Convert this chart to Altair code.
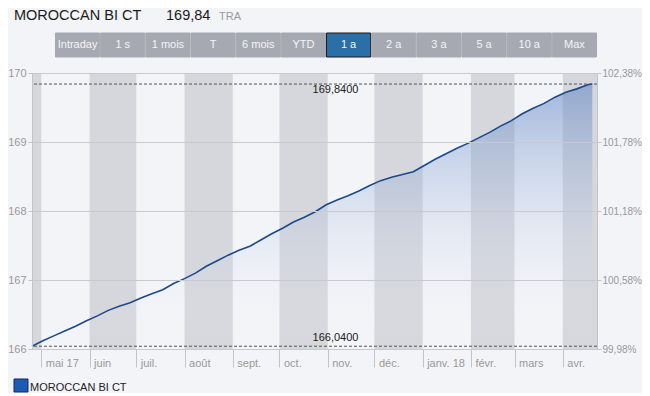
import altair as alt
import pandas as pd

# ---------------- data ----------------
title_text = "MOROCCAN BI CT"
last_value_text = "169,84"
unit_text = "TRA"
legend_text = "MOROCCAN BI CT"
buttons = ["Intraday", "1 s", "1 mois", "T", "6 mois", "YTD", "1 a", "2 a", "3 a", "5 a", "10 a", "Max"]
selected_button = "1 a"

dates = pd.date_range("2017-04-25", periods=52, freq="7D").strftime("%Y-%m-%dT00:00:00").tolist() + ["2018-04-20T00:00:00"]
values = [166.04, 166.12, 166.19, 166.26, 166.33, 166.41, 166.48, 166.56, 166.62, 166.67,
          166.74, 166.80, 166.86, 166.95, 167.02, 167.10, 167.20, 167.28, 167.36, 167.43,
          167.49, 167.58, 167.67, 167.75, 167.84, 167.91, 167.99, 168.09, 168.16, 168.22,
          168.29, 168.37, 168.44, 168.49, 168.53, 168.57, 168.66, 168.75, 168.83, 168.91,
          168.98, 169.06, 169.14, 169.23, 169.31, 169.41, 169.49, 169.56, 169.65, 169.72,
          169.77, 169.83, 169.84]

max_value = 169.84
min_value = 166.04
base_value = 166.04
y_ticks = [166, 167, 168, 169, 170]

band_starts = ["2017-04-25", "2017-06-01", "2017-08-01", "2017-10-01", "2017-12-01", "2018-02-01", "2018-04-01"]
band_ends = ["2017-05-01", "2017-07-01", "2017-09-01", "2017-11-01", "2018-01-01", "2018-03-01", "2018-04-23"]

month_names = ["janv.", "févr.", "mars", "avr.", "mai", "juin", "juil.", "août", "sept.", "oct.", "nov.", "déc."]
tick_months = [(2017, m) for m in range(5, 13)] + [(2018, m) for m in range(1, 5)]

# ---------------- frames ----------------
W, H = 565, 276
FONT = "Liberation Sans"

series = pd.DataFrame({"date": dates, "value": values})
bands = pd.DataFrame({"start": [s + "T00:00:00" for s in band_starts],
                      "end": [e + "T00:00:00" for e in band_ends]})
refs_top = pd.DataFrame({"date": ["2017-11-06T00:00:00"], "v": [max_value],
                         "label": [f"{max_value:.4f}".replace(".", ",")]})
refs_bot = pd.DataFrame({"date": ["2017-11-06T00:00:00"], "v": [min_value],
                         "label": [f"{min_value:.4f}".replace(".", ",")]})
one = pd.DataFrame({"k": [0]})

x_domain = [alt.DateTime(year=2017, month=4, date=25), alt.DateTime(year=2018, month=4, date=23)]
x_scale = alt.Scale(domain=x_domain)
y_scale = alt.Scale(domain=[166, 170], nice=False, zero=False)

names_js = "[" + ",".join(f"'{n}'" for n in month_names) + "]"
x_label_expr = ("month(datum.value)==4 ? 'mai 17' : month(datum.value)==0 ? 'janv. 18' : "
                + names_js + "[month(datum.value)]")

x_axis = alt.Axis(values=[alt.DateTime(year=y, month=m, date=1) for y, m in tick_months],
                  labelExpr=x_label_expr, tickSize=18, labelAlign="left", labelOffset=4,
                  labelPadding=-10, grid=False, labelColor="#999999", labelFontSize=11,
                  tickColor="#c4c4c8", domainColor="#c4c4c8", labelOverlap=False,
                  labelBound=False, labelFlush=False, title=None, labelFont=FONT)

y_left = alt.Axis(values=y_ticks, orient="left", grid=True, gridColor="#c8c9ce", tickSize=4,
                  tickColor="#c4c4c8", domainColor="#c4c4c8", labelColor="#999999",
                  labelFontSize=11, labelPadding=2, title=None, zindex=1, labelFont=FONT)
y_right = alt.Axis(values=y_ticks, orient="right", grid=False, tickSize=4,
                   tickColor="#c4c4c8", domainColor="#c4c4c8", labelColor="#999999",
                   labelFontSize=10, labelPadding=1, title=None, labelFont=FONT,
                   labelExpr=f"replace(format(datum.value/{base_value}*100,'.2f'),'.',',')+'%'")

# ---------------- layers ----------------
band_layer = alt.Chart(bands).mark_rect(color="#d6d7dc").encode(
    x=alt.X("start:T", scale=x_scale, axis=x_axis),
    x2="end:T",
    y=alt.value(0), y2=alt.value(H),
)

gradient = alt.Gradient(
    gradient="linear",
    stops=[alt.GradientStop(color="rgba(90,130,195,0.55)", offset=0),
           alt.GradientStop(color="rgba(255,255,255,0)", offset=1)],
    x1=1, x2=1, y1=0, y2=1,
)
area_layer = alt.Chart(series).mark_area(color=gradient).encode(
    x=alt.X("date:T", scale=x_scale),
    y=alt.Y("value:Q", scale=y_scale, axis=y_left),
    y2=alt.datum(166),
)
line_layer = alt.Chart(series).mark_line(color="#1b4a8a", strokeWidth=1.6).encode(
    x=alt.X("date:T", scale=x_scale),
    y=alt.Y("value:Q", scale=y_scale, axis=None),
)

rule_data = pd.concat([refs_top, refs_bot])
rule_layer = alt.Chart(rule_data).mark_rule(color="#555555", strokeDash=[3, 2], strokeWidth=1).encode(
    y=alt.Y("v:Q", scale=y_scale, axis=y_right),
)
top_label = alt.Chart(refs_top).mark_text(fontSize=11, color="#222222", baseline="alphabetic",
                                          dy=9, font=FONT).encode(
    x=alt.X("date:T", scale=x_scale), y=alt.Y("v:Q", scale=y_scale, axis=None), text="label:N")
bot_label = alt.Chart(refs_bot).mark_text(fontSize=11, color="#222222", baseline="alphabetic",
                                          dy=-5, font=FONT).encode(
    x=alt.X("date:T", scale=x_scale), y=alt.Y("v:Q", scale=y_scale, axis=None), text="label:N")

deco = []
deco.append(alt.Chart(one).mark_text(text=title_text, fontSize=14.5, color="#1a1a1a", align="left",
                                     baseline="alphabetic", font=FONT).encode(
    x=alt.value(-18), y=alt.value(-53)))
deco.append(alt.Chart(one).mark_text(text=last_value_text, fontSize=14.5, color="#1a1a1a", align="left",
                                     baseline="alphabetic", font=FONT).encode(
    x=alt.value(134), y=alt.value(-53)))
deco.append(alt.Chart(one).mark_text(text=unit_text, fontSize=11, color="#9a9a9a", align="left",
                                     baseline="alphabetic", font=FONT).encode(
    x=alt.value(187), y=alt.value(-53)))

bw = (597 - 55) / len(buttons)
for i, lab in enumerate(buttons):
    x0 = 23 + i * bw
    sel = lab == selected_button
    deco.append(alt.Chart(one).mark_rect(
        color="#2b6fa6" if sel else "#a6a9b2",
        stroke="#1a1a1a" if sel else "#a6a9b2", strokeWidth=1).encode(
        x=alt.value(x0 + 0.5), x2=alt.value(x0 + bw - 0.5), y=alt.value(-40), y2=alt.value(-16)))
    deco.append(alt.Chart(one).mark_text(text=lab, fontSize=11, color="#f4f4f8", align="center",
                                         baseline="middle", font=FONT).encode(
        x=alt.value(x0 + bw / 2), y=alt.value(-28)))

deco.append(alt.Chart(one).mark_rect(color="#1c5bb3", stroke="#0e2c5e", strokeWidth=1).encode(
    x=alt.value(-18), x2=alt.value(-4), y=alt.value(306), y2=alt.value(319)))
deco.append(alt.Chart(one).mark_text(text=legend_text, fontSize=11, color="#222222", align="left",
                                     baseline="alphabetic", font=FONT).encode(
    x=alt.value(-2), y=alt.value(318)))

chart = alt.layer(band_layer, area_layer, line_layer, rule_layer, top_label, bot_label, *deco).resolve_scale(
    y="shared").resolve_axis(y="independent").properties(
    width=W, height=H,
    padding={"left": 24, "top": 65, "right": 45, "bottom": 44},
    autosize=alt.AutoSizeParams(type="none"),
).configure(background="#f3f4f8", font=FONT).configure_view(stroke=None)

chart.save("out.html", embed_options={"renderer": "svg", "actions": False})
